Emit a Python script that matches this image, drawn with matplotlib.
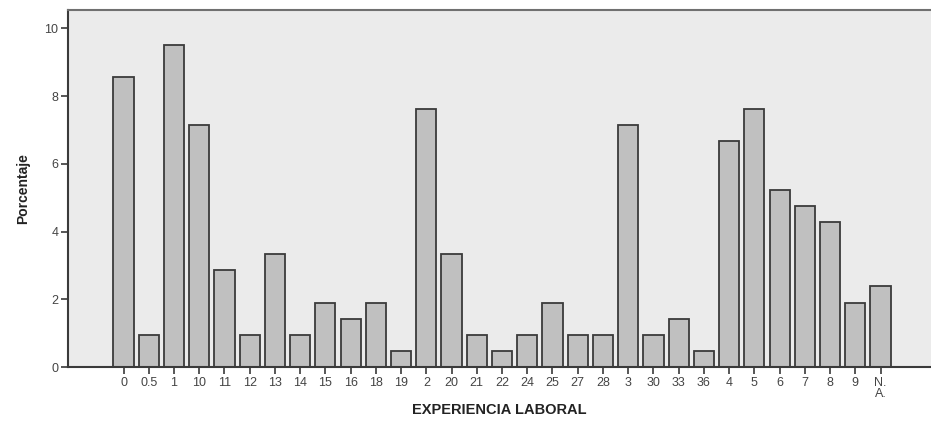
import matplotlib
matplotlib.use("Agg")
import matplotlib.pyplot as plt
import numpy as np

plt.rcParams['font.family'] = ['Liberation Sans', 'DejaVu Sans']

# categorias de experiencia laboral (años) y porcentaje
categorias = ['0', '0.5', '1', '10', '11', '12', '13', '14', '15', '16', '18', '19',
              '2', '20', '21', '22', '24', '25', '27', '28', '3', '30', '33', '36',
              '4', '5', '6', '7', '8', '9', 'N.\nA.']
porcentaje = [8.57, 0.95, 9.52, 7.14, 2.86, 0.95, 3.33, 0.95, 1.90, 1.43, 1.90, 0.48,
              7.62, 3.33, 0.95, 0.48, 0.95, 1.90, 0.95, 0.95, 7.14, 0.95, 1.43, 0.48,
              6.67, 7.62, 5.24, 4.76, 4.29, 1.90, 2.38]
yticks = [0, 2, 4, 6, 8, 10]

fig = plt.figure(figsize=(9.31, 4.24), dpi=100)
ax = fig.add_axes([68/931, 1 - 367/424, 1 - 68/931, (367 - 9.5)/424])
ax.set_facecolor('#ebebeb')

x = np.arange(len(categorias))
ax.bar(x, porcentaje, width=0.8, color='#c0c0c0', edgecolor='#3a3a3a', linewidth=1.3)

ax.set_xlim(-2.2, len(categorias) + 1.0)
ax.set_ylim(0, 10.56)
ax.set_xticks(x)
ax.set_xticklabels(categorias, fontsize=9, color='#444444', linespacing=0.9)
ax.set_yticks(yticks)
ax.set_yticklabels([str(v) for v in yticks], fontsize=9, color='#444444')
ax.tick_params(axis='both', length=5, width=1.2, color='#3a3a3a', pad=2)

for s in ax.spines.values():
    s.set_color('#3a3a3a')
    s.set_linewidth(1.5)
ax.spines['top'].set_color('#707070')
ax.spines['right'].set_visible(False)

ax.set_ylabel('Porcentaje', fontsize=10, fontweight='bold', color='#222222', labelpad=10)
fig.text((68 + 931) / 2 / 931, 1 - 410/424, 'EXPERIENCIA LABORAL', ha='center', va='center',
         fontsize=10.5, fontweight='bold', color='#222222')

fig.savefig('out.png', dpi=100)
